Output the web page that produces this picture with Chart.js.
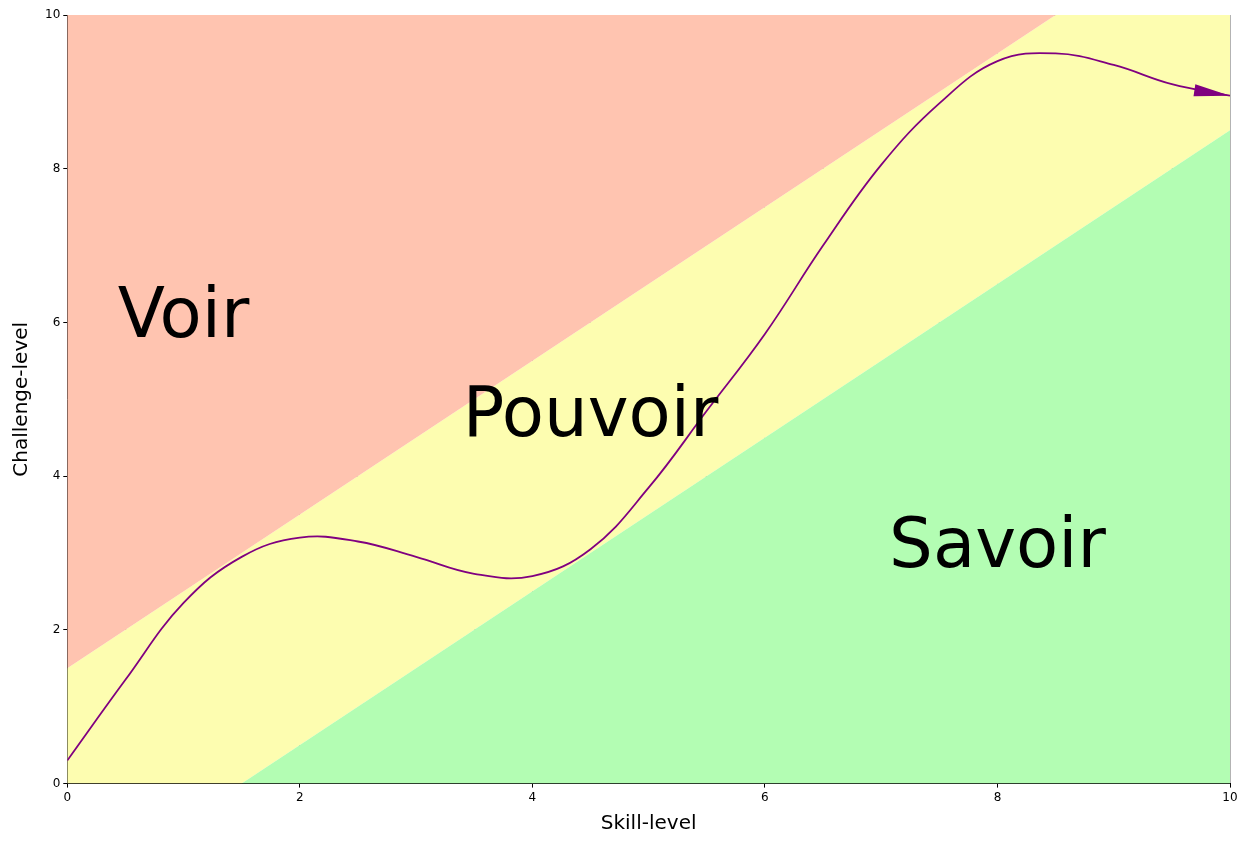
<!DOCTYPE html>
<html><head><meta charset="utf-8">
<script src="https://cdn.jsdelivr.net/npm/chart.js@4/dist/chart.umd.min.js"></script>
<style>html,body{margin:0;padding:0;background:#fff}#wrap{width:1248px;height:848px}</style>
</head><body><div id="wrap"><canvas id="c"></canvas></div>
<script>
const curveX = [0,0.5,1,1.5,2,2.5,3,3.5,4,4.5,5,5.5,6,6.5,7,7.5,8,8.5,9,9.5,10];
const curveY = [0.3,1.35,2.35,2.95,3.2,3.15,2.95,2.73,2.7,3.05,3.85,4.85,5.85,7.0,8.05,8.85,9.4,9.5,9.35,9.1,8.95];
const upperX = [0,8.5,10];
const upperY = [1.5,10,10];
const lowerX = [1.5,10];
const lowerY = [0,8.5];
const labels = ["Voir","Pouvoir","Savoir"];
const labelX = [1.0,4.5,8.0];
const labelY = [6.05,4.75,3.05];
const ticks = [0,2,4,6,8,10];

const zones = {
  id:'zones',
  beforeDatasetsDraw(ch){
    const {ctx, scales:{x,y}, chartArea:a} = ch;
    ctx.save();
    ctx.beginPath(); ctx.rect(a.left,a.top,a.right-a.left,a.bottom-a.top); ctx.clip();
    const path=(pts)=>{ctx.beginPath();pts.forEach((p,i)=>{const px=x.getPixelForValue(p[0]),py=y.getPixelForValue(p[1]);i?ctx.lineTo(px,py):ctx.moveTo(px,py);});ctx.closePath();};
    const up=upperX.map((v,i)=>[v,upperY[i]]), lo=lowerX.map((v,i)=>[v,lowerY[i]]);
    path([[0,0]].concat(lo).concat(up.slice().reverse()));ctx.fillStyle='#FDFDB0';ctx.fill();
    path([[0,10]].concat(up));ctx.fillStyle='#FFC4B0';ctx.fill();
    path([[10,0]].concat(lo));ctx.fillStyle='#B3FDB3';ctx.fill();
    ctx.restore();
  },
  afterDatasetsDraw(ch){
    const {ctx, scales:{x,y}} = ch;
    ctx.save();
    const n=curveX.length-1;
    const ex=x.getPixelForValue(curveX[n]), ey=y.getPixelForValue(curveY[n]);
    const sx=x.getPixelForValue(9.7), sy=y.getPixelForValue(9.02);
    const ang=Math.atan2(ey-sy,ex-sx);
    ctx.translate(ex,ey); ctx.rotate(ang);
    ctx.beginPath(); ctx.moveTo(0,0); ctx.lineTo(-36,-6); ctx.lineTo(-36,6); ctx.closePath();
    ctx.fillStyle='purple'; ctx.fill();
    ctx.restore();
    ctx.save();
    ctx.font='69px "DejaVu Sans"'; ctx.fillStyle='#000'; ctx.textAlign='center'; ctx.textBaseline='middle';
    labels.forEach((t,i)=>ctx.fillText(t,x.getPixelForValue(labelX[i]),y.getPixelForValue(labelY[i])));
    ctx.restore();
  }
};

new Chart(document.getElementById('c'),{
  type:'scatter',
  data:{datasets:[{data:curveX.map((v,i)=>({x:v,y:curveY[i]})),showLine:true,borderColor:'purple',borderWidth:1.8,pointRadius:0,tension:0.4}]},
  options:{
    responsive:true,maintainAspectRatio:false,animation:false,
    layout:{padding:{left:6,right:18,top:15,bottom:8}},
    plugins:{legend:{display:false},tooltip:{enabled:false}},
    scales:{
      x:{type:'linear',min:0,max:10,afterBuildTicks:s=>{s.ticks=ticks.map(v=>({value:v}));},
        grid:{color:'rgba(160,160,160,0.8)',tickLength:4,tickColor:'#000'},border:{color:'#000',width:1},
        ticks:{color:'#000',font:{size:12,family:'DejaVu Sans'}},
        title:{display:true,text:'Skill-level',color:'#000',font:{size:20,family:'DejaVu Sans'},padding:{top:4}}},
      y:{type:'linear',min:0,max:10,afterBuildTicks:s=>{s.ticks=ticks.map(v=>({value:v}));},
        grid:{color:'rgba(160,160,160,0.8)',tickLength:4,tickColor:'#000'},border:{color:'#000',width:1},
        ticks:{color:'#000',font:{size:12,family:'DejaVu Sans'}},
        title:{display:true,text:'Challenge-level',color:'#000',font:{size:20,family:'DejaVu Sans'},padding:{bottom:8}}}
    }
  },
  plugins:[zones]
});
</script></body></html>
